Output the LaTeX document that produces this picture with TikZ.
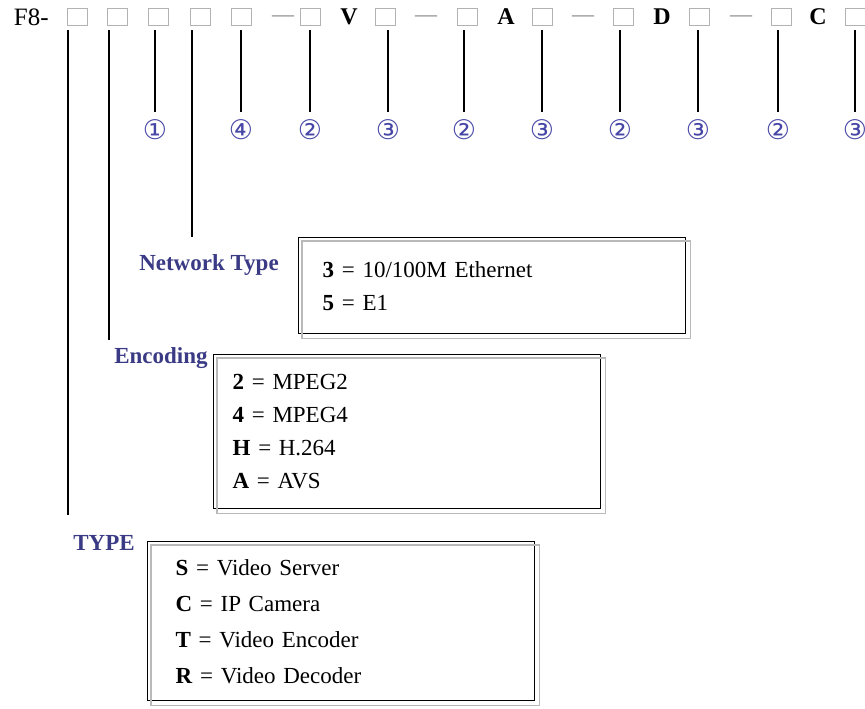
\documentclass[tikz,border=0pt]{standalone}
\usepackage{fontspec}
\setmainfont{Liberation Serif}
\newfontfamily\symfont{DejaVu Sans}
\usetikzlibrary{positioning}
\definecolor{labelblue}{HTML}{3A3A85}
\definecolor{numblue}{HTML}{4646A6}
\tikzset{
  code/.style={draw=gray!60, line width=0.5pt, minimum width=10pt, minimum height=8.5pt, inner sep=0pt},
  sepdash/.style={text=gray!70, inner sep=0pt, font=\bfseries\fontsize{11}{11}\selectfont},
  letter/.style={inner sep=0pt, font=\bfseries\fontsize{12}{12}\selectfont},
  leader/.style={line width=0.85pt},
  circnum/.style={text=numblue, inner sep=0pt, font=\symfont\fontsize{13.5}{13.5}\selectfont},
  fieldname/.style={text=labelblue, inner sep=0pt, font=\bfseries\fontsize{11.5}{13}\selectfont},
  optbox/.style={draw, line width=0.7pt, anchor=north west, align=left, font=\fontsize{11.5}{16.5}\selectfont},
  boxshade/.style={draw=gray!55, line width=0.7pt}
}
\begin{document}
\begin{tikzpicture}[x=0.5pt,y=-0.5pt]
\useasboundingbox (0,0) rectangle (865,708);
% model string
\node[inner sep=0pt, anchor=east, font=\fontsize{12.5}{12.5}\selectfont] (prefix) at (49,17) {F8-};
\node[code] (c1) at (77,17) {};
\node[code] (c2) at (117,17) {};
\node[code] (c3) at (158,17) {};
\node[code] (c4) at (200,17) {};
\node[code] (c5) at (241,17) {};
\node[sepdash] (d1) at (283,19) {\textemdash};
\node[code] (c6) at (310,17) {};
\node[letter] (lv) at (349,17) {V};
\node[code] (c7) at (385,17) {};
\node[sepdash] (d2) at (426,19) {\textemdash};
\node[code] (c8) at (467,17) {};
\node[letter] (la) at (506,17) {A};
\node[code] (c9) at (542,17) {};
\node[sepdash] (d3) at (583,19) {\textemdash};
\node[code] (c10) at (623,17) {};
\node[letter] (ld) at (662,17) {D};
\node[code] (c11) at (699,17) {};
\node[sepdash] (d4) at (741,19) {\textemdash};
\node[code] (c12) at (781,17) {};
\node[letter] (lc) at (818,17) {C};
\node[code] (c13) at (855,17) {};
% digit counts
\node[circnum] (n3) at (155,130) {①};
\node[circnum] (n5) at (241,130) {④};
\node[circnum] (n6) at (310,130) {②};
\node[circnum] (n7) at (388,130) {③};
\node[circnum] (n8) at (464,130) {②};
\node[circnum] (n9) at (542,130) {③};
\node[circnum] (n10) at (620,130) {②};
\node[circnum] (n11) at (698,130) {③};
\node[circnum] (n12) at (778,130) {②};
\node[circnum] (n13) at (855,130) {③};
\draw[leader, shorten <=2pt, shorten >=4pt] (c3.south -| n3) -- (n3.north);
\draw[leader, shorten <=2pt, shorten >=4pt] (c5.south) -- (n5.north);
\draw[leader, shorten <=2pt, shorten >=4pt] (c6.south) -- (n6.north);
\draw[leader, shorten <=2pt, shorten >=4pt] (c7.south -| n7) -- (n7.north);
\draw[leader, shorten <=2pt, shorten >=4pt] (c8.south -| n8) -- (n8.north);
\draw[leader, shorten <=2pt, shorten >=4pt] (c9.south) -- (n9.north);
\draw[leader, shorten <=2pt, shorten >=4pt] (c10.south -| n10) -- (n10.north);
\draw[leader, shorten <=2pt, shorten >=4pt] (c11.south -| n11) -- (n11.north);
\draw[leader, shorten <=2pt, shorten >=4pt] (c12.south -| n12) -- (n12.north);
\draw[leader, shorten <=2pt, shorten >=4pt] (c13.south) -- (n13.north);
% field labels
\node[fieldname] (netname) at (209,265) {Network Type};
\node[fieldname] (encname) at (161,358) {Encoding};
\node[fieldname] (typename) at (104,543) {TYPE};
\coordinate (netend) at (192,237);
\coordinate (encend) at (109,340);
\coordinate (typeend) at (68,515);
\draw[leader, shorten <=2pt] (c4.south -| netend) -- (netend);
\draw[leader, shorten <=2pt] (c2.south -| encend) -- (encend);
\draw[leader, shorten <=2pt] (c1.south -| typeend) -- (typeend);
% option boxes
\node[optbox, text width=169.5pt, inner xsep=12pt, minimum height=48pt] (netbox) at (298,237)
  {\textbf{3} = 10/100M Ethernet\\ \textbf{5} = E1};
\node[optbox, text width=174.5pt, inner xsep=9.5pt, minimum height=77pt] (encbox) at (213,354)
  {\textbf{2} = MPEG2\\ \textbf{4} = MPEG4\\ \textbf{H} = H.264\\ \textbf{A} = AVS};
\node[optbox, text width=165.5pt, inner xsep=14pt, minimum height=79.5pt, font=\fontsize{11.5}{18}\selectfont] (typebox) at (147,541)
  {\textbf{S} = Video Server\\ \textbf{C} = IP Camera\\ \textbf{T} = Video Encoder\\ \textbf{R} = Video Decoder};
\draw[boxshade] ([shift={(4,4)}]netbox.north west) rectangle ([shift={(4,4)}]netbox.south east);
\draw[boxshade] ([shift={(4,4)}]encbox.north west) rectangle ([shift={(4,4)}]encbox.south east);
\draw[boxshade] ([shift={(4,4)}]typebox.north west) rectangle ([shift={(4,4)}]typebox.south east);
\end{tikzpicture}
\end{document}
